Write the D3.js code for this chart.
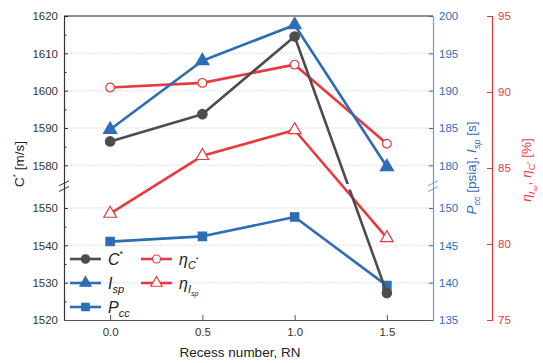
<!DOCTYPE html>
<html>
<head>
<meta charset="utf-8">
<script src="https://cdn.jsdelivr.net/npm/d3@7"></script>
<style>
  body { margin: 0; background: #fff; }
  svg { display: block; font-family: "Liberation Sans", Arial, sans-serif; }
</style>
</head>
<body>
<div id="chart"></div>
<script>
// Recess number vs C*, Isp, Pcc and efficiencies (broken axes)

const recess = [0.0, 0.5, 1.0, 1.5];
const cStar = [1586.4, 1593.7, 1614.5, 1527.2];     // m/s, left axis
const isp = [184.8, 194.0, 198.8, 179.8];           // s, blue axis
const pcc = [145.5, 146.2, 148.8, 139.6];           // psia, blue axis
const etaC = [90.3, 90.6, 91.8, 86.6];              // %, red axis
const etaIsp = [82.0, 85.8, 87.5, 80.4];            // %, red axis

const xTicks = [0.0, 0.5, 1.0, 1.5];
const cTicks = [1520, 1530, 1540, 1550, 1580, 1590, 1600, 1610, 1620];
const cMinor = [1525, 1535, 1545, 1585, 1595, 1605, 1615];
const cGrid = [1530, 1540, 1550, 1580, 1590, 1600, 1610];
const blueTicks = [135, 140, 145, 150, 180, 185, 190, 195, 200];
const redTicks = [75, 80, 85, 90, 95];

const W = 543, H = 363;
const mLeft = 64, mRight = 433, mTop = 16, mBottom = 320;
const redX = 492;
const gray = "#4d4d4d", blue = "#2f6cb6", red = "#e8393f";
const blueAxis = "#6d9ad2";

const x = d3.scaleLinear().domain([-0.25, 1.75]).range([mLeft, mRight]);
// piecewise scales with break: lower part and upper part share px/unit
const yC = d3.scaleLinear().domain([1520, 1555, 1575, 1620]).range([mBottom, 189.3, 184, mTop]);
const yB = d3.scaleLinear().domain([135, 152.5, 177.5, 200]).range([mBottom, 189.3, 184, mTop]);
const yR = d3.scaleLinear().domain([75, 95]).range([mBottom, mTop]);

const svg = d3.select("#chart").append("svg")
  .attr("width", W).attr("height", H);

// grid
svg.append("g").selectAll("line").data(cGrid).join("line")
  .attr("x1", mLeft).attr("x2", mRight)
  .attr("y1", d => yC(d)).attr("y2", d => yC(d))
  .attr("stroke", "#cfcfcf").attr("stroke-width", 0.8)
  .attr("stroke-dasharray", "1.5,1.5");

function styleAxis(g, col, textCol) {
  g.attr("font-size", 11.5).attr("font-family", "Liberation Sans, Arial, sans-serif");
  g.selectAll("line").attr("stroke", col).attr("stroke-width", 1);
  g.selectAll("path").attr("stroke", col).attr("stroke-width", 1.2);
  g.selectAll("text").attr("fill", textCol);
}

// left axis
const gl = svg.append("g").attr("transform", `translate(${mLeft},0)`)
  .call(d3.axisLeft(yC).tickValues(cTicks).tickSize(-4).tickSizeOuter(0).tickPadding(6).tickFormat(d3.format("d")));
styleAxis(gl, "#333", "#333");
svg.append("g").attr("transform", `translate(${mLeft},0)`)
  .call(d3.axisLeft(yC).tickValues(cMinor).tickSize(-2.5).tickFormat(""))
  .call(g => { g.select("path").remove(); g.selectAll("line").attr("stroke", "#333"); });

// top border
svg.append("line").attr("x1", mLeft).attr("x2", mRight).attr("y1", mTop).attr("y2", mTop)
  .attr("stroke", "#222").attr("stroke-width", 1.2);

// bottom axis
const gb = svg.append("g").attr("transform", `translate(0,${mBottom})`)
  .call(d3.axisBottom(x).tickValues(xTicks).tickSize(-5).tickSizeOuter(0).tickPadding(8).tickFormat(d3.format(".1f")));
styleAxis(gb, "#555", "#333");

// blue right axis
const gbl = svg.append("g").attr("transform", `translate(${mRight},0)`)
  .call(d3.axisRight(yB).tickValues(blueTicks).tickSize(-4).tickSizeOuter(0).tickPadding(6));
styleAxis(gbl, blueAxis, blue);
gbl.selectAll("line").attr("stroke", blue);

// red axis
const gr = svg.append("g").attr("transform", `translate(${redX},0)`)
  .call(d3.axisRight(yR).tickValues(redTicks).tickSize(-5).tickSizeOuter(-5).tickPadding(6));
styleAxis(gr, red, red);

// axis break marks
function breakMark(cx, col) {
  const g = svg.append("g");
  [183.3, 189].forEach(yy => {
    g.append("line").attr("x1", cx - 5).attr("x2", cx + 5)
      .attr("y1", yy + 2.5).attr("y2", yy - 2.5)
      .attr("stroke", col).attr("stroke-width", 1);
  });
}
breakMark(mLeft, "#333");
breakMark(mRight, blueAxis);

// series lines
const clipId = "gapClip";
const clip = svg.append("defs").append("clipPath").attr("id", clipId);
clip.append("rect").attr("x", 0).attr("y", 0).attr("width", W).attr("height", 184);
clip.append("rect").attr("x", 0).attr("y", 189.5).attr("width", W).attr("height", H);

const series = [
  { name: "pcc", vals: pcc, y: yB, col: blue, sym: d3.symbolSquare, size: 70, fill: blue },
  { name: "etaIsp", vals: etaIsp, y: yR, col: red, sym: d3.symbolTriangle, size: 70, fill: "#fff" },
  { name: "etaC", vals: etaC, y: yR, col: red, sym: d3.symbolCircle, size: 60, fill: "#fff" },
  { name: "isp", vals: isp, y: yB, col: blue, sym: d3.symbolTriangle, size: 75, fill: blue },
  { name: "cstar", vals: cStar, y: yC, col: gray, sym: d3.symbolCircle, size: 70, fill: gray }
];

const line = d3.line();
series.forEach(s => {
  const pts = recess.map((r, i) => [x(r), s.y(s.vals[i])]);
  const p = svg.append("path").attr("d", line(pts))
    .attr("fill", "none").attr("stroke", s.col).attr("stroke-width", 2.6)
    .attr("stroke-linejoin", "round");
  if (s.name === "cstar") p.attr("clip-path", `url(#${clipId})`);
  svg.append("g").selectAll("path").data(pts).join("path")
    .attr("transform", d => `translate(${d[0]},${d[1]})`)
    .attr("d", d3.symbol(s.sym, s.size))
    .attr("fill", s.fill).attr("stroke", s.col).attr("stroke-width", 1.2);
});

// legend
const legend = [
  { col: gray, sym: d3.symbolCircle, size: 55, fill: gray, lx: 70, ly: 259, label: [["C", "i", 0], ["*", "", "sup"]] },
  { col: blue, sym: d3.symbolTriangle, size: 55, fill: blue, lx: 70, ly: 283, label: [["I", "i", 0], ["sp", "i", "sub"]] },
  { col: blue, sym: d3.symbolSquare, size: 55, fill: blue, lx: 70, ly: 307, label: [["P", "i", 0], ["cc", "i", "sub"]] },
  { col: red, sym: d3.symbolCircle, size: 50, fill: "#fff", lx: 141, ly: 259, label: [["η", "i", 0], ["C", "i", "sub"], ["*", "", "subsup"]] },
  { col: red, sym: d3.symbolTriangle, size: 55, fill: "#fff", lx: 141, ly: 283, label: [["η", "i", 0], ["I", "i", "sub"], ["sp", "i", "subsub"]] }
];
const lg = svg.append("g");
legend.forEach(l => {
  lg.append("line").attr("x1", l.lx).attr("x2", l.lx + 31).attr("y1", l.ly).attr("y2", l.ly)
    .attr("stroke", l.col).attr("stroke-width", 2.6);
  lg.append("path").attr("transform", `translate(${l.lx + 15.5},${l.ly})`)
    .attr("d", d3.symbol(l.sym, l.size)).attr("fill", l.fill).attr("stroke", l.col).attr("stroke-width", 1.2);
  const t = lg.append("text").attr("x", l.lx + 38).attr("y", l.ly + 5.5)
    .attr("font-size", 16).attr("fill", "#222");
  l.label.forEach(([txt, it, pos]) => {
    const sp = t.append("tspan").text(txt);
    if (it) sp.attr("font-style", "italic");
    if (pos === "sup") sp.attr("font-size", 9).attr("dy", -8);
    if (pos === "sub") sp.attr("font-size", 11).attr("dy", 4);
    if (pos === "subsup") sp.attr("font-size", 7).attr("dy", -7);
    if (pos === "subsub") sp.attr("font-size", 7).attr("dy", 3);
  });
});

// axis titles
svg.append("text").attr("x", 240).attr("y", 357)
  .attr("text-anchor", "middle").attr("font-size", 13.5).attr("fill", "#222")
  .text("Recess number, RN");

const lt = svg.append("text").attr("transform", `translate(24,164) rotate(-90)`)
  .attr("text-anchor", "middle").attr("font-size", 13.5).attr("fill", "#222");
lt.append("tspan").text("C");
lt.append("tspan").text("*").attr("font-size", 8).attr("dy", -6);
lt.append("tspan").text(" [m/s]").attr("dy", 6);

const bt = svg.append("text").attr("transform", `translate(476,168) rotate(-90)`)
  .attr("text-anchor", "middle").attr("font-size", 13.5).attr("fill", blue);
bt.append("tspan").text("P").attr("font-style", "italic");
bt.append("tspan").text("cc").attr("font-style", "italic").attr("font-size", 9).attr("dy", 4);
bt.append("tspan").text(" [psia], ").attr("dy", -4);
bt.append("tspan").text("I").attr("font-style", "italic");
bt.append("tspan").text("sp").attr("font-style", "italic").attr("font-size", 9).attr("dy", 4);
bt.append("tspan").text(" [s]").attr("dy", -4);

const rt = svg.append("text").attr("transform", `translate(531,170) rotate(-90)`)
  .attr("text-anchor", "middle").attr("font-size", 13.5).attr("fill", red);
rt.append("tspan").text("η").attr("font-style", "italic");
rt.append("tspan").text("I").attr("font-style", "italic").attr("font-size", 9).attr("dy", 4);
rt.append("tspan").text("sp").attr("font-style", "italic").attr("font-size", 6).attr("dy", 2);
rt.append("tspan").text(", ").attr("dy", -6);
rt.append("tspan").text("η").attr("font-style", "italic");
rt.append("tspan").text("C").attr("font-style", "italic").attr("font-size", 9).attr("dy", 4);
rt.append("tspan").text("*").attr("font-size", 6).attr("dy", -4);
rt.append("tspan").text(" [%]").attr("dy", 0);
</script>
</body>
</html>
